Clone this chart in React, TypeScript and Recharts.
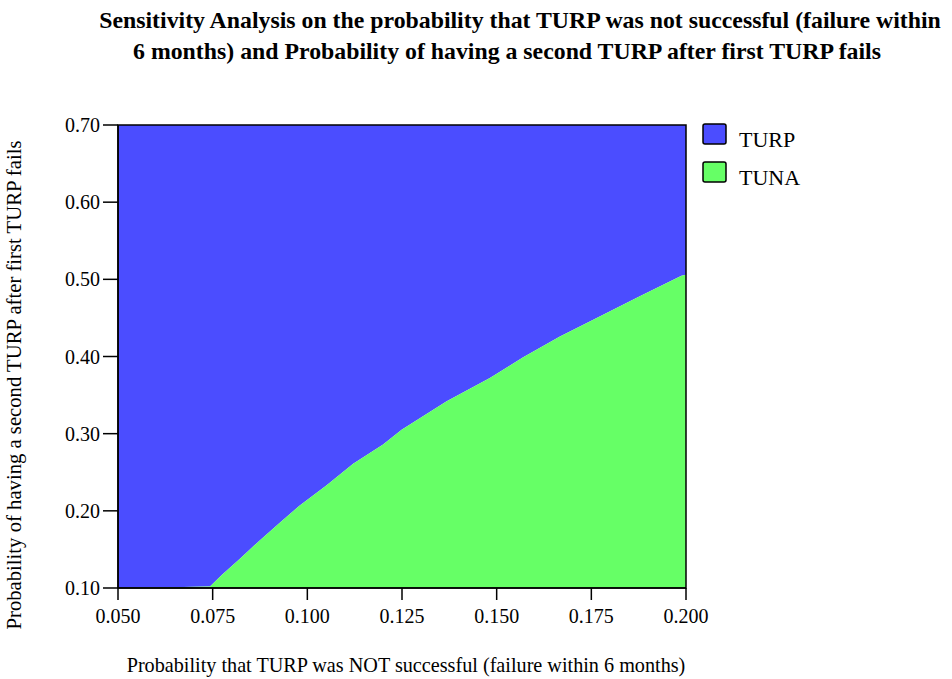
import React from 'react';
import { ComposedChart, Area, XAxis, YAxis, ReferenceArea } from 'recharts';

const titleLines = [
  'Sensitivity Analysis on the probability that TURP was not successful (failure within',
  '6 months) and Probability of having a second TURP after first TURP fails',
];
const xAxisTitle = 'Probability that TURP was NOT successful (failure within 6 months)';
const yAxisTitle = 'Probability of having a second TURP after first TURP fails';

// Probability TURP failed (x)
const failureProb = [
  0.05, 0.06, 0.0743, 0.0774, 0.0822, 0.0875, 0.0928, 0.098, 0.1051, 0.1121,
  0.12, 0.1249, 0.1368, 0.1482, 0.157, 0.1667, 0.1755, 0.1878, 0.1988, 0.2,
];
// Threshold of probability of second TURP (boundary between strategies)
const threshold = [
  0.1, 0.1005, 0.102, 0.117, 0.138, 0.162, 0.185, 0.207, 0.233, 0.261,
  0.286, 0.305, 0.342, 0.372, 0.399, 0.426, 0.4475, 0.478, 0.5046, 0.506,
];
const xTicks = [0.05, 0.075, 0.1, 0.125, 0.15, 0.175, 0.2];
const yTicks = [0.1, 0.2, 0.3, 0.4, 0.5, 0.6, 0.7];
const xDomain: [number, number] = [0.05, 0.2];
const yDomain: [number, number] = [0.1, 0.7];

const seriesNames = ['TURP', 'TUNA'];
const seriesColors = ['#4B4DFF', '#66FF66'];

const data = failureProb.map((x, i) => ({
  x,
  turp: [threshold[i], yDomain[1]],
  tuna: [yDomain[0], threshold[i]],
}));

const FONT = '"Liberation Serif", "Times New Roman", serif';

export default function App() {
  return (
    <div style={{ position: 'absolute', left: 0, top: 0, width: 952, height: 679, background: '#fff' }}>
      <ComposedChart
        width={952}
        height={679}
        data={data}
        margin={{ top: 125, right: 266, bottom: 41, left: 58 }}
      >
        <XAxis
          type="number"
          dataKey="x"
          domain={xDomain}
          ticks={xTicks}
          allowDataOverflow
          tickFormatter={(v: number) => v.toFixed(3)}
          height={50}
          tickSize={12}
          tickMargin={9}
          stroke="#000"
          strokeWidth={1.5}
          tick={{ fill: '#000', fontSize: 20, fontFamily: FONT }}
          tickLine={{ stroke: '#000', strokeWidth: 1.5 }}
          label={(props: any) => {
            const vb = props.viewBox;
            return (
              <text x={vb.x + vb.width / 2 + 4} y={672} textAnchor="middle" fontSize={20.2} fontFamily={FONT} fill="#000">
                {xAxisTitle}
              </text>
            );
          }}
        />
        <YAxis
          type="number"
          domain={yDomain}
          ticks={yTicks}
          allowDataOverflow
          tickFormatter={(v: number) => v.toFixed(2)}
          width={60}
          tickSize={15}
          tickMargin={3}
          stroke="#000"
          strokeWidth={1.5}
          tick={{ fill: '#000', fontSize: 20, fontFamily: FONT }}
          tickLine={{ stroke: '#000', strokeWidth: 1.5 }}
          label={() => (
            <text
              x={21}
              y={385}
              transform="rotate(-90, 21, 385)"
              textAnchor="middle"
              fontSize={20.7}
              fontFamily={FONT}
              fill="#000"
            >
              {yAxisTitle}
            </text>
          )}
        />
        <Area
          type="linear"
          dataKey="turp"
          name={seriesNames[0]}
          fill={seriesColors[0]}
          fillOpacity={1}
          stroke="none"
          isAnimationActive={false}
        />
        <Area
          type="linear"
          dataKey="tuna"
          name={seriesNames[1]}
          fill={seriesColors[1]}
          fillOpacity={1}
          stroke="none"
          isAnimationActive={false}
        />
        <ReferenceArea
          x1={xDomain[0]}
          x2={xDomain[1]}
          y1={yDomain[0]}
          y2={yDomain[1]}
          fill="none"
          stroke="#000"
          strokeWidth={1.5}
          ifOverflow="visible"
        />
      </ComposedChart>
      <svg
        width={952}
        height={679}
        style={{ position: 'absolute', left: 0, top: 0, pointerEvents: 'none' }}
      >
        <text x={520} y={28} textAnchor="middle" fontSize={23.8} fontWeight="bold" fontFamily={FONT} fill="#000">
          {titleLines[0]}
        </text>
        <text x={507} y={59} textAnchor="middle" fontSize={23.8} fontWeight="bold" fontFamily={FONT} fill="#000">
          {titleLines[1]}
        </text>
        {seriesNames.map((name, i) => (
          <g key={name}>
            <rect
              x={703}
              y={124 + i * 38}
              width={23}
              height={20}
              rx={2}
              fill={seriesColors[i]}
              stroke="#000"
              strokeWidth={1.5}
            />
            <text x={739} y={147 + i * 38} fontSize={22} fontFamily={FONT} fill="#000">
              {name}
            </text>
          </g>
        ))}
      </svg>
    </div>
  );
}
